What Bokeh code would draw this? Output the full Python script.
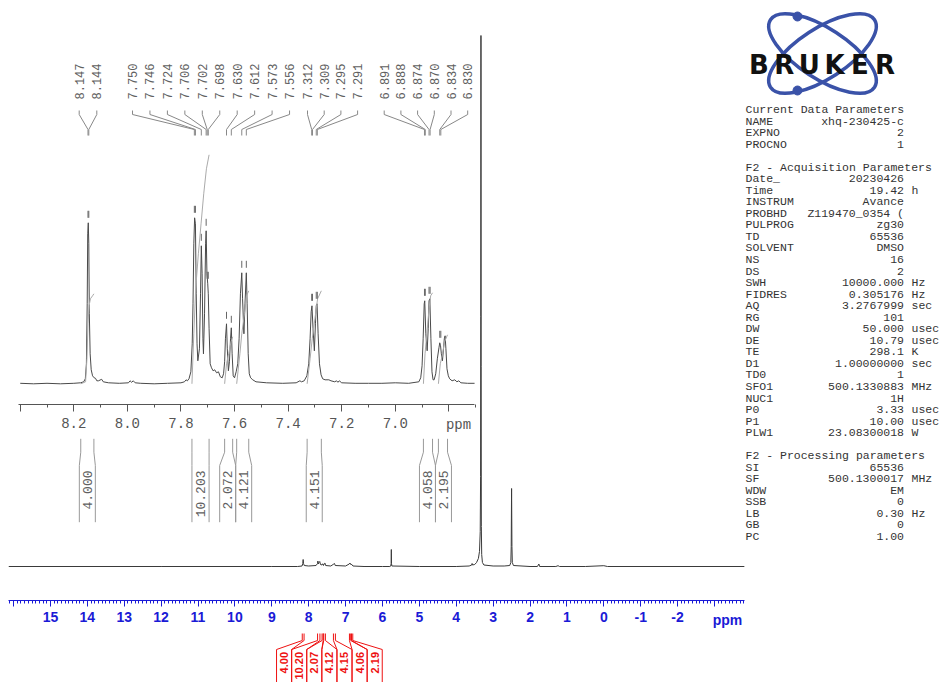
import math
from bokeh.plotting import figure
from bokeh.models import Range1d, LinearAxis, FixedTicker, PrintfTickFormatter
from bokeh.core.properties import value
from bokeh.embed import file_html
from bokeh.resources import INLINE

W, H = 941, 682

# ---------------- data ----------------
# expanded aromatic region (ppm, relative intensity)
inset_ppm = [8.400, 8.350, 8.300, 8.250, 8.200, 8.175, 8.163, 8.157, 8.153, 8.150, 8.148, 8.146, 8.144,
             8.142, 8.139, 8.135, 8.130, 8.124, 8.119, 8.114, 8.108, 8.096, 8.090, 8.070, 8.030, 7.996,
             7.990, 7.984, 7.978, 7.971, 7.950, 7.900, 7.850, 7.800, 7.787, 7.781, 7.776, 7.770, 7.763,
             7.758, 7.755, 7.752, 7.749, 7.746, 7.743, 7.740, 7.737, 7.731, 7.727, 7.724, 7.721, 7.718,
             7.716, 7.712, 7.708, 7.706, 7.703, 7.700, 7.698, 7.695, 7.691, 7.686, 7.680, 7.674, 7.667,
             7.660, 7.653, 7.646, 7.641, 7.637, 7.634, 7.630, 7.627, 7.623, 7.619, 7.615, 7.612, 7.609,
             7.605, 7.600, 7.594, 7.588, 7.583, 7.578, 7.573, 7.570, 7.565, 7.561, 7.556, 7.553, 7.549,
             7.545, 7.540, 7.532, 7.520, 7.480, 7.420, 7.370, 7.356, 7.350, 7.340, 7.330, 7.323, 7.318,
             7.314, 7.311, 7.307, 7.302, 7.298, 7.295, 7.292, 7.288, 7.283, 7.277, 7.271, 7.262, 7.248,
             7.240, 7.226, 7.219, 7.214, 7.209, 7.200, 7.150, 7.100, 7.050, 7.000, 6.950, 6.912, 6.905,
             6.900, 6.896, 6.892, 6.890, 6.886, 6.881, 6.877, 6.874, 6.871, 6.867, 6.863, 6.859, 6.855,
             6.849, 6.843, 6.837, 6.834, 6.831, 6.828, 6.824, 6.820, 6.817, 6.814, 6.811, 6.807, 6.802,
             6.797, 6.788, 6.778, 6.770, 6.763, 6.755, 6.730, 6.704]
inset_int = [0.5, 0, 0.5, 0, 0.5, 1, 2, 5, 20, 80, 150, 161, 140,
             70, 30, 14, 8, 6, 5.5, 3, 3, 4.5, 2, 1, 0.5, 1,
             3, 1.5, 3, 1, 0.5, 0, 0.5, 1, 2, 4, 3, 5, 12,
             40, 80, 140, 166, 160, 90, 40, 23, 35, 90, 138, 110, 45,
             30, 70, 140, 153, 110, 100, 90, 55, 20, 16, 13, 14, 11,
             12, 7, 6, 10, 22, 45, 60, 35, 13, 22, 45, 56, 30,
             8, 6, 12, 20, 45, 90, 111, 85, 50, 80, 111, 80, 30,
             10, 6, 4, 2, 1, 0.5, 1, 3, 2, 3, 8, 20, 45,
             72, 78, 55, 33, 60, 78, 80, 50, 20, 9, 5, 4, 4,
             3, 2, 3, 1.5, 3, 1, 0.5, 0.5, 0.5, 1, 0.5, 2, 6,
             18, 45, 80, 83, 50, 33, 55, 83, 85, 45, 12, 4, 4,
             10, 25, 36, 41, 38, 30, 23, 35, 45, 48, 35, 15, 8,
             5, 3, 4, 2, 3, 1, 0.5, 0.5]

# full spectrum (ppm, relative intensity)
main_ppm = [16.13, 12.0, 9.0, 8.30, 8.18, 8.16, 8.15, 8.14, 8.12, 8.00, 7.80, 7.76, 7.75, 7.74, 7.72,
            7.70, 7.68, 7.64, 7.63, 7.61, 7.60, 7.575, 7.56, 7.54, 7.40, 7.32, 7.30, 7.28, 7.00, 6.90,
            6.88, 6.86, 6.83, 6.80, 6.50, 6.00, 5.80, 5.775, 5.765, 5.76, 5.755, 5.745, 5.00, 4.00,
            3.65, 3.58, 3.57, 3.56, 3.50, 3.45, 3.40, 3.37, 3.35, 3.34, 3.335, 3.33, 3.325, 3.32, 3.31,
            3.29, 3.25, 3.00, 2.70, 2.55, 2.52, 2.51, 2.50, 2.49, 2.48, 2.45, 2.00, 1.80, 1.76, 1.74,
            1.30, 1.24, 1.20, 0.50, 0.00, -0.10, -3.81]
main_int = [0, 0, 0, 0, 0.5, 3, 7, 3, 1, 0.5, 1, 3, 5.5, 2.5, 4,
            5, 2, 1.5, 2.5, 2.5, 1, 3, 3.5, 1, 0.5, 2.5, 3, 1, 0.5, 2.5,
            3.5, 2, 2, 0.5, 0, 0, 0, 0.5, 3, 17, 3, 0.5, 0, 0,
            0.5, 1.5, 3, 1.5, 2, 4, 8, 15, 35, 90, 250, 531, 200, 40, 12,
            4, 1.5, 0.5, 0.5, 1, 4, 20, 78, 20, 4, 1, 0, 0, 2.5, 0,
            0, 0.8, 0, 0, 0.8, 0, 0]

peak_labels = ["8.147", "8.144", "7.750", "7.746", "7.724", "7.706", "7.702", "7.698", "7.630", "7.612",
               "7.573", "7.556", "7.312", "7.309", "7.295", "7.291", "6.891", "6.888", "6.874", "6.870",
               "6.834", "6.830"]
peak_ppm = [8.147, 8.144, 7.750, 7.746, 7.724, 7.706, 7.702, 7.698, 7.630, 7.612,
            7.573, 7.556, 7.312, 7.309, 7.295, 7.291, 6.891, 6.888, 6.874, 6.870,
            6.834, 6.830]
peak_height = [161, 161, 166, 166, 138, 153, 100, 100, 60, 56,
               111, 111, 78, 78, 80, 80, 83, 83, 85, 85,
               41, 41]

integral_values = [4.000, 10.203, 2.072, 4.121, 4.151, 4.058, 2.195]
integral_start = [8.174, 7.759, 7.637, 7.592, 7.329, 6.895, 6.839]
integral_end = [8.125, 7.695, 7.607, 7.547, 7.276, 6.861, 6.805]

int1_ppm = [8.174, 8.156, 8.151, 8.147, 8.143, 8.138, 8.130, 8.125]
int1_val = [0, 2, 25, 60, 78, 85, 88, 90]
int2_ppm = [7.759, 7.752, 7.745, 7.735, 7.725, 7.715, 7.705, 7.695]
int2_val = [0, 50, 95, 130, 160, 190, 215, 229]
int3_ppm = [7.637, 7.630, 7.622, 7.613, 7.607]
int3_val = [0, 20, 30, 42, 47]
int4_ppm = [7.592, 7.580, 7.573, 7.563, 7.555, 7.547]
int4_val = [0, 30, 50, 70, 88, 93]
int5_ppm = [7.329, 7.318, 7.310, 7.300, 7.290, 7.276]
int5_val = [0, 25, 45, 65, 85, 93]
int6_ppm = [6.895, 6.889, 6.882, 6.874, 6.868, 6.861]
int6_val = [0, 30, 50, 75, 88, 91]
int7_ppm = [6.839, 6.832, 6.825, 6.816, 6.805]
int7_val = [0, 20, 28, 42, 49]

main_ticks = [-3, -2, -1, 0, 1, 2, 3, 4, 5, 6, 7, 8, 9, 10, 11, 12, 13, 14, 15, 16]
inset_ticks = [6.8, 7.0, 7.2, 7.4, 7.6, 7.8, 8.0, 8.2, 8.4]

param_names = ["Current Data Parameters", "NAME", "EXPNO", "PROCNO", "",
               "F2 - Acquisition Parameters", "Date_", "Time", "INSTRUM", "PROBHD", "PULPROG", "TD",
               "SOLVENT", "NS", "DS", "SWH", "FIDRES", "AQ", "RG", "DW", "DE", "TE", "D1", "TD0",
               "SFO1", "NUC1", "P0", "P1", "PLW1", "",
               "F2 - Processing parameters", "SI", "SF", "WDW", "SSB", "LB", "GB", "PC"]
param_values = ["", "xhq-230425-c", "2", "1", "",
                "", "20230426", "19.42", "Avance", "Z119470_0354 (", "zg30", "65536",
                "DMSO", "16", "2", "10000.000", "0.305176", "3.2767999", "101", "50.000", "10.79",
                "298.1", "1.00000000", "1",
                "500.1330883", "1H", "3.33", "10.00", "23.08300018", "",
                "", "65536", "500.1300017", "EM", "0", "0.30", "0", "1.00"]
param_units = ["", "", "", "", "",
               "", "", "h", "", "", "", "",
               "", "", "", "Hz", "Hz", "sec", "", "usec", "usec", "K", "sec", "",
               "MHz", "", "usec", "usec", "W", "",
               "", "", "MHz", "", "", "Hz", "", ""]

# ---------------- figure ----------------
BLUE = "#1a1ad6"
RED = "#ee1111"
GRAY = "#555555"
MONO = "Liberation Mono"

p = figure(width=W, height=H, x_range=Range1d(0, W), y_range=Range1d(H, 0),
           x_axis_location=None, y_axis_location=None, toolbar_location=None,
           output_backend="svg", min_border=0, outline_line_color=None,
           background_fill_color="white", border_fill_color="white")
p.xgrid.visible = False
p.ygrid.visible = False
p.grid.visible = False

main_x = Range1d(16.354, -9.154)
inset_x = Range1d(8.47361, 4.96110)
main_y = Range1d(-116, 566)
inset_y = Range1d(-298.7, 383.3)
p.extra_x_ranges = {"main": main_x, "inset": inset_x}
p.extra_y_ranges = {"main_i": main_y, "inset_i": inset_y}


def to_px(r, v):
    return (v - r.start) / (r.end - r.start) * W


def to_data(r, px):
    return r.start + (r.end - r.start) * px / W


def pack(centers, widths):
    clusters = [[i] for i in range(len(centers))]

    def place(cl):
        total = sum(widths[i] for i in cl)
        c = sum(centers[i] for i in cl) / len(cl)
        return c - total / 2, c + total / 2

    changed = True
    while changed:
        changed = False
        for k in range(len(clusters) - 1):
            _, r1 = place(clusters[k])
            l2, _ = place(clusters[k + 1])
            if r1 > l2 + 1e-9:
                clusters[k] = clusters[k] + clusters[k + 1]
                del clusters[k + 1]
                changed = True
                break
    boxes = {}
    for cl in clusters:
        left, _ = place(cl)
        for i in cl:
            boxes[i] = (left, left + widths[i])
            left += widths[i]
    return [boxes[i] for i in range(len(centers))]


# spectra
p.line(main_ppm, main_int, x_range_name="main", y_range_name="main_i", line_color="#3a3a3a", line_width=1)
p.line(inset_ppm, inset_int, x_range_name="inset", y_range_name="inset_i", line_color="#4a4a4a", line_width=1)

# integral curves in expansion
p.multi_line(xs=[int1_ppm, int2_ppm, int3_ppm, int4_ppm, int5_ppm, int6_ppm, int7_ppm],
             ys=[int1_val, int2_val, int3_val, int4_val, int5_val, int6_val, int7_val],
             x_range_name="inset", y_range_name="inset_i", line_color="#aaaaaa", line_width=1)

# peak pick markers
p.segment(x0=peak_ppm, y0=[h + 5 for h in peak_height], x1=peak_ppm, y1=[h + 12 for h in peak_height],
          x_range_name="inset", y_range_name="inset_i", line_color="#666666", line_width=1)

# peak labels and leaders
label_groups = [(78.7, 17.6, 2), (132.0, 17.45, 10), (307.0, 16.7, 4), (383.7, 16.7, 6)]
label_px = []
for start, step, n in label_groups:
    label_px += [start + step * k for k in range(n)]
p.text(x=label_px, y=[99] * len(label_px), text=peak_labels, angle=math.pi / 2,
       text_align="left", text_baseline="middle", text_font=value(MONO),
       text_font_size="12px", text_color="#606060")
lead_xs, lead_ys = [], []
for lx, pk in zip(label_px, peak_ppm):
    lxd = to_data(inset_x, lx)
    lead_xs.append([lxd, lxd, pk, pk])
    lead_ys.append([110, 114, 129, 135])
p.multi_line(xs=lead_xs, ys=lead_ys, x_range_name="inset", line_color="#888888", line_width=1)

# integral brackets - expansion (gray)
reg_l = [to_px(inset_x, s) for s in integral_start]
reg_r = [to_px(inset_x, e) for e in integral_end]
cent = [(a + b) / 2 for a, b in zip(reg_l, reg_r)]
wid = [max(b - a, 16.0) for a, b in zip(reg_l, reg_r)]
boxes = pack(cent, wid)
bxs, bys = [], []
for a, b, (bl, br) in zip(reg_l, reg_r, boxes):
    bxs.append([to_data(inset_x, v) for v in (a, a, bl, bl)])
    bys.append([438.3, 451.7, 465.0, 521.7])
    bxs.append([to_data(inset_x, v) for v in (b, b, br, br)])
    bys.append([438.3, 451.7, 465.0, 521.7])
p.multi_line(xs=bxs, ys=bys, x_range_name="inset", line_color="#999999", line_width=1)
p.text(x=[to_data(inset_x, (bl + br) / 2) for bl, br in boxes], y=[470] * len(boxes),
       text=["%.3f" % v for v in integral_values], x_range_name="inset", angle=math.pi / 2,
       text_align="right", text_baseline="middle", text_font=value(MONO),
       text_font_size="13px", text_color="#606060")

# integral brackets - full spectrum (red)
reg_l = [to_px(main_x, s) for s in integral_start]
reg_r = [to_px(main_x, e) for e in integral_end]
cent = [(a + b) / 2 for a, b in zip(reg_l, reg_r)]
wid = [max(b - a, 15.1) for a, b in zip(reg_l, reg_r)]
boxes = pack(cent, wid)
rxs, rys = [], []
for a, b, (bl, br) in zip(reg_l, reg_r, boxes):
    rxs.append([to_data(main_x, v) for v in (a, a, bl, bl)])
    rys.append([633, 640, 649, 682])
    rxs.append([to_data(main_x, v) for v in (b, b, br, br)])
    rys.append([633, 640, 649, 682])
p.multi_line(xs=rxs, ys=rys, x_range_name="main", line_color=RED, line_width=1)
p.text(x=[to_data(main_x, (bl + br) / 2) for bl, br in boxes], y=[651.5] * len(boxes),
       text=["%.2f" % v for v in integral_values], x_range_name="main", angle=math.pi / 2,
       text_align="right", text_baseline="middle", text_font=value("Liberation Sans"),
       text_font_style="bold", text_font_size="11px", text_color=RED)

# axes
main_minor = [round(-3.8 + 0.1 * k, 1) for k in range(200)]
main_minor = [t for t in main_minor if abs(t - round(t)) > 1e-6 and t <= 16.1]
main_axis = LinearAxis(x_range_name="main", fixed_location=600,
                       ticker=FixedTicker(ticks=main_ticks, minor_ticks=main_minor),
                       formatter=PrintfTickFormatter(format="%d"),
                       bounds=(-3.81, 16.13), axis_line_color=BLUE, axis_line_width=1,
                       major_tick_line_color=BLUE, minor_tick_line_color=BLUE,
                       major_tick_in=0, major_tick_out=6, minor_tick_in=0, minor_tick_out=3,
                       major_label_text_font="Liberation Sans", major_label_text_font_style="bold",
                       major_label_text_font_size="14px", major_label_text_color=BLUE,
                       major_label_standoff=5, major_label_overrides={16: "", -3: ""})
p.add_layout(main_axis, "below")

inset_minor = [6.7, 6.9, 7.1, 7.3, 7.5, 7.7, 7.9, 8.1, 8.3]
inset_axis = LinearAxis(x_range_name="inset", fixed_location=403.5,
                        ticker=FixedTicker(ticks=inset_ticks, minor_ticks=inset_minor),
                        formatter=PrintfTickFormatter(format="%.1f"),
                        bounds=(6.704, 8.406), axis_line_color=GRAY, axis_line_width=1,
                        major_tick_line_color=GRAY, minor_tick_line_color=GRAY,
                        major_tick_in=0, major_tick_out=7, minor_tick_in=0, minor_tick_out=3,
                        major_label_text_font=MONO, major_label_text_font_size="14px",
                        major_label_text_color=GRAY, major_label_standoff=7,
                        major_label_overrides={8.4: "", 6.8: ""})
p.add_layout(inset_axis, "below")

p.text(x=[727], y=[619.5], text=["ppm"], text_align="center", text_baseline="middle",
       text_font=value("Liberation Sans"), text_font_style="bold", text_font_size="14px",
       text_color=BLUE)
p.text(x=[458], y=[424], text=["ppm"], text_align="center", text_baseline="middle",
       text_font=value(MONO), text_font_size="14px", text_color=GRAY)

# parameter block
ys = [109 + 11.54 * i for i in range(len(param_names))]
p.text(x=[745] * len(ys), y=ys, text=param_names, text_align="left", text_baseline="middle",
       text_font=value(MONO), text_font_size="11.5px", text_color="#333333")
p.text(x=[903.5] * len(ys), y=ys, text=param_values, text_align="right", text_baseline="middle",
       text_font=value(MONO), text_font_size="11.5px", text_color="#333333")
p.text(x=[911] * len(ys), y=ys, text=param_units, text_align="left", text_baseline="middle",
       text_font=value(MONO), text_font_size="11.5px", text_color="#333333")

# logo
LOGO = "#3a52a8"
p.ellipse(x=[822, 822], y=[53, 53], width=[124, 124], height=[50, 50], angle=[0.576, -0.576],
          width_units="screen", height_units="screen", fill_color=None, line_color=LOGO, line_width=3.5)
p.scatter(x=[797, 797], y=[16, 90], size=9, marker="circle", fill_color=LOGO, line_color=LOGO)
letters = ["B", "R", "U", "K", "E", "R"]
p.text(x=[758.5 + 25.2 * k for k in range(6)], y=[64] * 6, text=letters, text_align="center",
       text_baseline="alphabetic", text_font=value("DejaVu Sans"), text_font_style="bold",
       text_font_size="26px", text_color="#111111")

open("out.html", "w").write(file_html(p, INLINE))
